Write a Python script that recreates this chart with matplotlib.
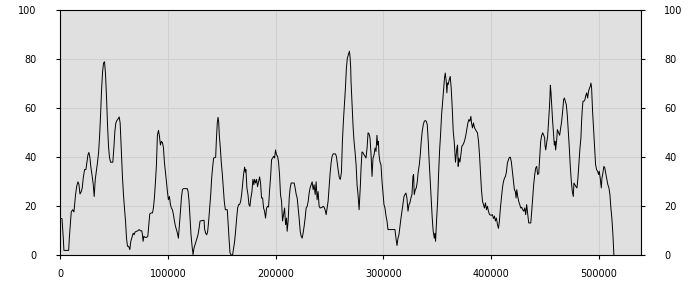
import matplotlib
matplotlib.use("Agg")
import matplotlib.pyplot as plt

# x in thousands, y values
x_k = [0, 1.6, 2.8, 3.4, 7.8, 8.4, 9.3, 10.2, 11.5, 12.7, 13.3, 14.2, 15.2, 16.4, 17.3, 18.3, 19.5, 20.4,
       21.3, 22.6, 23.8, 24.7, 25.7, 26.6, 27.5, 28.4, 29.4, 30.6, 31.5, 32.5, 33.7, 34.6, 35.6, 36.5, 37.4,
       38.3, 39.3, 40.2, 41.1, 42.0, 43.0, 43.9, 44.8, 45.7, 46.7, 48.8, 49.8, 50.7, 51.6, 52.5, 53.5, 54.7,
       55.6, 56.6, 57.8, 58.7, 59.6, 60.6, 61.5, 62.4, 63.4, 64.6, 65.5, 66.4, 67.7, 68.6, 69.5, 70.8, 72.0,
       73.2, 74.5, 75.7, 76.3, 76.9, 77.6, 78.8, 80.0, 81.3, 82.2, 83.1, 84.4, 85.6, 86.5, 87.4, 88.4, 89.3,
       90.2, 91.2, 92.1, 93.0, 93.9, 94.9, 95.8, 96.7, 97.7, 98.6, 99.5, 100.4, 101.4, 102.3, 103.2, 104.1,
       105.1, 106.0, 106.9, 107.8, 108.8, 109.7, 110.6, 111.6, 112.5, 113.4, 114.3, 118.0, 118.7, 119.6,
       120.5, 121.4, 122.4, 123.3, 124.2, 125.2, 126.1, 127.0, 127.9, 128.9, 129.8, 133.5, 134.1, 135.0,
       136.0, 136.9, 137.8, 138.7, 139.7, 140.6, 141.5, 142.4, 144.3, 144.9, 145.8, 146.5, 147.1, 147.7,
       148.6, 149.5, 150.5, 151.4, 152.3, 153.3, 155.1, 155.7, 156.7, 157.6, 158.8, 160.1, 161.0, 161.9,
       162.8, 163.8, 164.7, 165.6, 166.5, 167.5, 168.4, 169.3, 170.2, 171.2, 171.8, 172.4, 173.3, 174.3,
       175.2, 176.1, 177.0, 178.0, 178.9, 179.8,
       180.4, 181.4, 182.3, 183.2, 184.2, 185.1, 186.0, 186.9, 187.9, 188.8, 189.7, 190.6, 191.6, 192.5,
       193.4, 194.4, 195.3, 196.2, 197.1, 198.1, 199.0, 199.9, 200.8, 201.8, 202.7, 203.6, 204.5, 205.5,
       206.4, 207.3, 208.3, 209.2, 210.1, 210.7, 211.6, 212.6, 213.5, 214.4, 217.2, 218.1, 219.1, 220.0,
       220.9, 221.8, 222.8, 223.7, 224.6, 225.5, 226.5, 227.4, 228.3, 229.3, 230.2, 231.1, 232.0, 233.0,
       233.9, 234.8, 235.7, 236.7, 237.6, 238.5, 239.4, 240.4, 241.3, 243.2, 244.1, 245.0, 245.9, 246.9,
       247.8, 248.7, 249.6, 250.6, 251.5, 252.4, 253.4, 255.5, 256.4, 257.4, 258.3, 259.2, 260.1, 261.1,
       262.0, 262.9, 263.9, 264.8, 265.7, 266.6, 267.6, 268.5, 269.1, 269.7,
       270.0, 271.0, 271.9, 272.8, 273.7, 274.7, 275.6, 276.5, 277.5, 278.1, 278.7, 279.3, 280.2, 281.2,
       282.1, 283.0, 283.9, 284.9, 285.8, 286.7, 287.6, 288.6, 289.5, 290.4, 291.4, 292.3, 293.2, 294.1,
       294.7, 295.4, 296.0, 296.9, 297.8, 298.8, 299.7, 300.6, 301.5, 302.5, 303.4, 304.3, 310.8, 311.7,
       312.7, 313.6, 314.5, 315.5, 316.4, 317.3, 318.2, 319.2, 320.1, 321.0, 321.9, 322.9, 323.8, 324.7,
       325.6, 326.6, 327.5, 328.1, 328.7, 329.7, 330.6, 331.5, 332.4, 333.4, 334.3, 335.2, 336.1, 337.1,
       338.0, 338.9, 339.9, 340.8, 341.7, 342.6, 343.6, 344.5, 345.4, 346.3, 347.3, 347.9, 348.5, 349.4,
       350.4, 351.3, 352.2, 353.1, 354.1, 355.0, 355.9, 356.8, 357.5,
       358.4, 359.0, 359.6, 360.2, 361.2, 362.1, 363.0, 364.0, 364.9, 365.8, 366.4, 367.0, 367.7, 368.3,
       368.9, 369.5, 370.1, 371.1, 372.0, 372.9, 373.8, 374.8, 375.7, 376.6, 377.5, 378.5, 379.4, 380.3,
       381.3, 381.9, 382.8, 383.7, 384.7, 385.6, 386.5, 387.4, 388.4, 389.3, 390.2, 391.1, 392.1, 393.0,
       393.9, 394.8, 395.8, 396.7, 397.6, 398.6, 400.4, 401.3, 402.3, 403.2, 404.1, 405.0, 406.0, 406.9,
       407.8, 408.7, 409.7, 410.6, 411.5, 412.5, 413.4, 414.3, 415.2, 416.2, 417.1, 418.0, 418.9, 419.9,
       420.8, 421.7, 422.6, 423.3, 423.9, 424.8, 425.7, 426.7, 427.6, 428.5, 429.4, 430.4, 431.3, 432.2,
       433.1, 434.1, 435.0, 436.9, 437.8, 438.7, 439.6, 440.6, 441.5, 442.4, 443.3, 444.3, 445.2, 446.1,
       447.1, 448.0, 448.9, 449.8,
       450.1, 450.8, 451.7, 452.6, 453.5, 454.2, 454.8, 455.1, 455.7, 456.3, 457.2, 458.2, 458.8, 459.4,
       460.0, 461.0, 461.6, 462.2, 462.8, 463.7, 464.7, 465.6, 466.5, 467.4, 468.1, 469.0, 469.9, 470.8,
       471.8, 472.7, 473.6, 474.6, 475.5, 476.4, 477.0, 477.9, 478.9, 479.8, 480.7, 481.7, 482.6, 483.5,
       484.1, 484.8, 485.4, 486.3, 487.2, 487.8, 488.8, 489.7, 490.6, 491.5, 492.2, 492.8, 493.4, 494.3,
       495.2, 496.2, 497.1, 498.0, 499.0, 499.9, 500.5, 501.4, 502.4, 503.0, 503.9, 504.8, 505.7, 506.7,
       507.6, 508.5, 509.5, 510.4, 511.3, 512.2, 513.2, 514.1]

values = [15, 15, 7, 2, 2, 7, 12.5, 17.7, 18.6, 17.7, 20.7, 24.8, 28, 30, 29, 25, 26, 27.5,
          31.5, 35, 35, 38, 41, 42, 40, 36, 33, 29, 24, 31, 35, 38, 42, 48.6, 57,
          67, 75, 78.5, 79, 74, 64, 53, 44.5, 40, 38, 38, 44, 50.6, 54, 55, 55.5, 56.5,
          54, 44, 31.5, 24.8, 19.3, 14, 7, 3.7, 3.7, 2.3, 5.7, 7, 9, 8.4, 9.5, 9.8, 10,
          10.5, 10, 10, 8.4, 5.7, 7.8, 7.3, 7.3, 7.8, 12.5, 16.9, 17.3, 17.3, 19.3, 23.4, 30, 37,
          49, 51, 48.6, 45, 46.5, 46, 44, 38, 34, 30, 26, 22.7, 24, 20.7, 19.3, 18.6,
          16.6, 14, 12, 10.5, 9, 7, 12.5, 18, 23.4, 26.8, 27.2, 27.2, 26, 22,
          15.2, 8.4, 3.7, 0.3, 3, 4.4, 5.7, 7, 8.4, 11, 14, 14.3, 10.5, 9,
          8.4, 9.8, 14, 19.3, 24.8, 31.5, 36, 39.7, 40, 46.5, 54, 56.3, 54.5, 49,
          44, 38, 33, 27.5, 22, 18.6, 18.6, 14, 7, 1, 0, 0.3, 3, 5.7,
          9.8, 15.2, 19.3, 20.7, 20.7, 22, 24.8, 28.8, 33, 36, 34, 35, 27.5, 24.8,
          20.7, 20, 23.4, 26, 31, 28.8,
          31, 29.5, 31, 28, 30, 32, 29.5, 23.4, 23.4, 19.3, 18, 15.2, 19.3, 20,
          19.7, 26.8, 32, 39, 39.7, 40.4, 39.7, 43, 41, 40.4, 38, 33, 24.8, 22,
          14, 16.6, 19.3, 12.5, 15.2, 9.8, 14, 23.4, 27.5, 29.5, 29.5, 27.5, 24.8, 23.4,
          19.3, 15.2, 9.8, 7.8, 7, 9, 12, 15.2, 19.3, 20, 22, 25.4, 27.5, 28.8,
          30, 26.8, 28.8, 24.8, 30, 22.7, 26, 20, 19.3, 19.6, 20, 19.6, 18.6, 16.6,
          19.3, 22, 27.5, 33.6, 37.7, 40.4, 41.4, 41.4, 40.4, 37, 34, 31.5, 31, 34,
          46.5, 54.7, 61.5, 68.3, 76.5, 80.5, 82, 83.3, 81, 76.5,
          71, 61.5, 52.6, 46.5, 42.4, 37, 28.8, 24.8, 18.6, 23.4, 28.8, 35.6, 42.2, 41.8,
          41, 40.4, 39.7, 43.8, 50, 49.6, 48, 41, 32.2, 39.7, 41, 43.8, 42.4, 49,
          45, 46.5, 41, 38, 37, 30, 25.4, 20.7, 19.3, 16, 14, 10.5, 10.5, 7,
          4, 7, 8.4, 12, 15.2, 18, 20.7, 24, 24.8, 25.4, 23.4, 18, 20.7, 21.4,
          23.4, 24.8, 32.2, 33, 24.8, 26.8, 27.5, 30, 34, 37, 41, 46.5, 50.6, 53.3,
          54.7, 55, 54.7, 53.3, 46.5, 38, 30, 22, 15.2, 9.8, 7, 9, 5.7, 14,
          22, 33, 42.4, 49, 57.4, 62.2, 67.6, 72.4, 74.4,
          71, 66.3, 70.3, 69.7, 71.7, 73, 68.3, 60, 50.6, 46.5, 42.4, 38, 41, 43.8,
          45, 36.3, 39.7, 38, 41, 44.5, 45, 45.9, 47.2, 49, 51.3, 54, 55.4, 54.7,
          56.7, 54, 52, 54, 52, 51.3, 50.6, 50, 46.5, 41, 34, 26.8, 22, 20.7,
          19.3, 21.4, 18.6, 20, 18, 16.6, 16.3, 16.6, 15, 16, 14, 15.2, 12.5, 11,
          14, 19.3, 23.4, 27.5, 30, 31.5, 32.2, 34, 37.7, 39, 40, 40, 38, 34,
          30, 26.8, 26, 23.4, 26.8, 24, 22, 20.7, 19.3, 19.6, 18.6, 18, 19.3, 16.6,
          20.7, 16.6, 13.2, 13.2, 18, 23.4, 28.8, 33, 35.6, 36.3, 33, 33.3, 39.7, 46.5,
          49, 50, 49, 48,
          45, 43, 46, 48.6, 54.7, 60, 65.6, 69.4, 66.3, 61.5, 54.7, 49, 45, 46.5,
          43, 47.2, 51.3, 50.6, 50, 49, 52, 54.7, 58.8, 63.5, 64.2, 62.9, 61.5, 57.4,
          50.6, 43.8, 36.3, 30, 26, 24, 29.5, 28.8, 28, 27.5, 31.5, 38, 43.8, 48,
          54.7, 60, 62.9, 62.9, 63.5, 64.9, 66.3, 64.2, 67, 68.3, 69, 70.3, 68.3, 58.8,
          52, 43.8, 37, 35, 34.3, 33, 34.3, 31.5, 27.5, 31.5, 33.6, 36.3, 35.6, 33,
          31, 28.8, 27.5, 24.8, 19.3, 15.2, 8.4, 0]

x_ticks = [0, 100000, 200000, 300000, 400000, 500000]
y_ticks = [0, 20, 40, 60, 80, 100]

x_vals = [v * 1000 for v in x_k]

fig = plt.figure(figsize=(7, 3), dpi=100)
ax = fig.add_axes([0.0861, 0.149, 0.8292, 0.8167])
ax.set_facecolor('#e0e0e0')
ax.plot(x_vals, values, color='black', linewidth=0.7)
ax.set_xlim(0, 539000)
ax.set_ylim(0, 100)
ax.set_xticks(x_ticks)
ax.set_xticklabels([str(t) for t in x_ticks])
ax.set_yticks(y_ticks)
ax.set_yticklabels([str(t) for t in y_ticks])
ax.grid(True, color='#cfcfcf', linewidth=0.8)
ax.set_axisbelow(True)
for s in ax.spines.values():
    s.set_color('black')
    s.set_linewidth(0.8)
ax.tick_params(axis='y', which='both', left=True, right=True, labelleft=True, labelright=True,
               direction='out', length=3, width=0.8, pad=14, labelsize=7, colors='black')
ax.tick_params(axis='x', direction='out', length=3, width=0.8, pad=7, labelsize=7)

fig.savefig('out.png', dpi=100)
